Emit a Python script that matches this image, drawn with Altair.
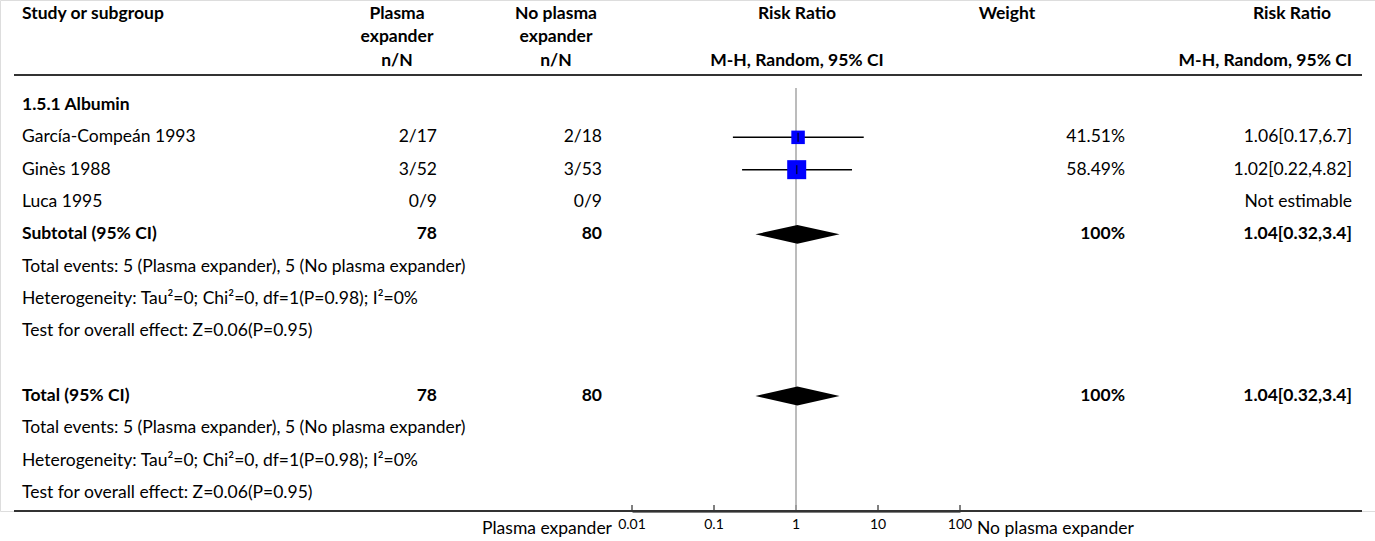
import altair as alt
import pandas as pd

FONT = "Lato"
FS = 17.5

# ---------------- data ----------------
row_labels = [
    "1.5.1 Albumin",
    "García-Compeán 1993",
    "Ginès 1988",
    "Luca 1995",
    "Subtotal (95% CI)",
    "Total events: 5 (Plasma expander), 5 (No plasma expander)",
    "Heterogeneity: Tau²=0; Chi²=0, df=1(P=0.98); I²=0%",
    "Test for overall effect: Z=0.06(P=0.95)",
    "",
    "Total (95% CI)",
    "Total events: 5 (Plasma expander), 5 (No plasma expander)",
    "Heterogeneity: Tau²=0; Chi²=0, df=1(P=0.98); I²=0%",
    "Test for overall effect: Z=0.06(P=0.95)",
]
row_bold = [True, False, False, False, True, False, False, False, False, True, False, False, False]
col_exp = ["", "2/17", "3/52", "0/9", "78", "", "", "", "", "78", "", "", ""]
col_ctl = ["", "2/18", "3/53", "0/9", "80", "", "", "", "", "80", "", "", ""]
col_weight = ["", "41.51%", "58.49%", "", "100%", "", "", "", "", "100%", "", "", ""]
col_rr = ["", "1.06[0.17,6.7]", "1.02[0.22,4.82]", "Not estimable", "1.04[0.32,3.4]",
          "", "", "", "", "1.04[0.32,3.4]", "", "", ""]

study_rows = [1, 2]
study_est = [1.06, 1.02]
study_lo = [0.17, 0.22]
study_hi = [6.7, 4.82]
study_weight = [41.51, 58.49]

diamond_rows = [4, 9]
diamond_est = [1.04, 1.04]
diamond_lo = [0.32, 0.32]
diamond_hi = [3.4, 3.4]

axis_ticks = [0.01, 0.1, 1, 10, 100]
axis_tick_labels = ["0.01", "0.1", "1", "10", "100"]

header_study = "Study or subgroup"
header_exp = ["Plasma", "expander", "n/N"]
header_ctl = ["No plasma", "expander", "n/N"]
header_rr = ["Risk Ratio", "M-H, Random, 95% CI"]
header_weight = "Weight"
favours_left = "Plasma expander"
favours_right = "No plasma expander"

# ---------------- tables ----------------
rows = pd.DataFrame({
    "row": list(range(len(row_labels))),
    "label": row_labels,
    "bold": row_bold,
    "exp": col_exp,
    "ctl": col_ctl,
    "weight": col_weight,
    "rr": col_rr,
})
studies = pd.DataFrame({"row": study_rows, "est": study_est, "lo": study_lo,
                        "hi": study_hi, "w": study_weight})
dia_pts = []
H = 0.29
for i, (r, e, lo, hi) in enumerate(zip(diamond_rows, diamond_est, diamond_lo, diamond_hi)):
    dia_pts.append({"id": i, "x": lo, "y": r, "y2": r})
    dia_pts.append({"id": i, "x": e, "y": r - H, "y2": r + H})
    dia_pts.append({"id": i, "x": hi, "y": r, "y2": r})
diamonds = pd.DataFrame(dia_pts)
ticks = pd.DataFrame({"t": axis_ticks, "lab": axis_tick_labels})
one = pd.DataFrame([{"a": 1}])

yscale = alt.Scale(domain=[0, 12], range=[105, 493])
xscale = alt.Scale(type="log", domain=[0.01, 100], range=[632, 960])
xaxis = alt.Axis(values=axis_ticks, title=None, ticks=False, domain=True,
                 domainColor="#000", domainWidth=2, labels=False, grid=False)

TXT = dict(font=FONT, fontSize=FS, baseline="middle", color="#000")


def txt(s, x, y, align="left", bold=False, size=FS):
    kw = dict(TXT)
    kw["fontSize"] = size
    return alt.Chart(one).mark_text(align=align, fontWeight="bold" if bold else "normal", **kw).encode(
        x=alt.value(x), y=alt.value(y), text=alt.value(s))


layers = []

# axis tick marks (carry the axis)
layers.append(alt.Chart(ticks).mark_rule(color="#000", strokeWidth=1).encode(
    x=alt.X("t:Q", scale=xscale, axis=xaxis),
    y=alt.value(505), y2=alt.value(511)))
# axis tick labels
layers.append(alt.Chart(ticks).mark_text(font=FONT, fontSize=14, color="#000", baseline="middle",
                                         align="center").encode(
    x=alt.X("t:Q", scale=xscale, axis=xaxis),
    y=alt.value(525), text="lab:N"))

# vertical line of no effect
layers.append(alt.Chart(one).transform_calculate(v="1").mark_rule(color="#a6a6a6", strokeWidth=1.5).encode(
    x=alt.X("v:Q", scale=xscale, axis=xaxis), y=alt.value(88), y2=alt.value(511)))

# headers
HY1, HY2, HY3 = 14, 37, 61
layers += [
    txt(header_study, 22, HY1, "left", True),
    txt(header_exp[0], 397, HY1, "center", True),
    txt(header_exp[1], 397, HY2, "center", True),
    txt(header_exp[2], 397, HY3, "center", True),
    txt(header_ctl[0], 556, HY1, "center", True),
    txt(header_ctl[1], 556, HY2, "center", True),
    txt(header_ctl[2], 556, HY3, "center", True),
    txt(header_rr[0], 797, HY1, "center", True),
    txt(header_rr[1], 797, HY3, "center", True),
    txt(header_weight, 1007, HY1, "center", True),
    txt(header_rr[0], 1292, HY1, "center", True),
    txt(header_rr[1], 1352, HY3, "right", True),
    txt(favours_left, 612, 529, "right", False),
    txt(favours_right, 977, 529, "left", False),
]

# header line and bottom line
layers.append(alt.Chart(one).mark_rule(color="#333", strokeWidth=2).encode(
    x=alt.value(14), x2=alt.value(1362), y=alt.value(75)))
layers.append(alt.Chart(one).mark_rule(color="#333", strokeWidth=2).encode(
    x=alt.value(14), x2=alt.value(1362), y=alt.value(511)))

# row texts
for bold in (False, True):
    base = alt.Chart(rows).transform_filter(alt.datum.bold == bold)
    fw = "bold" if bold else "normal"
    y = alt.Y("row:Q", scale=yscale, axis=None)
    layers.append(base.mark_text(align="left", fontWeight=fw, **TXT).encode(
        x=alt.value(22), y=y, text="label:N"))
    layers.append(base.mark_text(align="right", fontWeight=fw, **TXT).encode(
        x=alt.value(437), y=y, text="exp:N"))
    layers.append(base.mark_text(align="right", fontWeight=fw, **TXT).encode(
        x=alt.value(602), y=y, text="ctl:N"))
    layers.append(base.mark_text(align="right", fontWeight=fw, **TXT).encode(
        x=alt.value(1125), y=y, text="weight:N"))
    layers.append(base.mark_text(align="right", fontWeight=fw, **TXT).encode(
        x=alt.value(1352), y=y, text="rr:N"))

# CIs
layers.append(alt.Chart(studies).mark_rule(color="#000", strokeWidth=1.5).encode(
    x=alt.X("lo:Q", scale=xscale, axis=xaxis), x2="hi:Q",
    y=alt.Y("row:Q", scale=yscale, axis=None)))
# squares
layers.append(alt.Chart(studies).mark_square(color="#0000ff", opacity=1, filled=True).encode(
    x=alt.X("est:Q", scale=xscale, axis=xaxis),
    y=alt.Y("row:Q", scale=yscale, axis=None),
    size=alt.Size("w:Q", scale=alt.Scale(type="pow", exponent=2, domain=[0, 100], range=[0, 1056]),
                  legend=None)))
layers.append(alt.Chart(studies).mark_tick(orient="vertical", color="#000", size=9, thickness=1.5).encode(
    x=alt.X("est:Q", scale=xscale, axis=xaxis),
    y=alt.Y("row:Q", scale=yscale, axis=None)))
# diamonds
layers.append(alt.Chart(diamonds).mark_area(color="#000", orient="vertical", opacity=1).encode(
    x=alt.X("x:Q", scale=xscale, axis=xaxis),
    y=alt.Y("y:Q", scale=yscale, axis=None), y2="y2:Q",
    detail="id:N"))

chart = alt.layer(*layers).properties(
    width=1375, height=511,
    autosize=alt.AutoSizeParams(type="none"),
    padding={"left": 0, "top": 0, "right": 0, "bottom": 30},
).configure_view(stroke=None).configure(background="white")

chart.save("out.html", embed_options={"renderer": "svg", "actions": False})
